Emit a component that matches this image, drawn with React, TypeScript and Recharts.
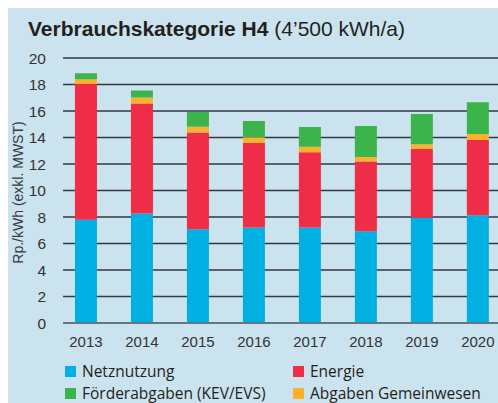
import React from 'react';
import {
  BarChart,
  Bar,
  XAxis,
  YAxis,
  CartesianGrid,
  Label,
} from 'recharts';

// Werte in Rp./kWh
const years = [2013, 2014, 2015, 2016, 2017, 2018, 2019, 2020];
const netznutzung = [7.8, 8.26, 7.07, 7.2, 7.2, 6.92, 7.95, 8.13];
const energie = [10.24, 8.3, 7.3, 6.38, 5.68, 5.26, 5.18, 5.68];
const abgabenGemeinwesen = [0.35, 0.45, 0.45, 0.44, 0.43, 0.35, 0.36, 0.45];
const foerderabgaben = [0.46, 0.53, 1.1, 1.23, 1.48, 2.34, 2.28, 2.4];
const yTicks = [0, 2, 4, 6, 8, 10, 12, 14, 16, 18, 20];

const series = [
  { key: 'netz', name: 'Netznutzung', color: '#00b0e2', values: netznutzung },
  { key: 'energie', name: 'Energie', color: '#ef2d47', values: energie },
  { key: 'gemeinwesen', name: 'Abgaben Gemeinwesen', color: '#fbb12c', values: abgabenGemeinwesen },
  { key: 'foerder', name: 'Förderabgaben (KEV/EVS)', color: '#3bb54b', values: foerderabgaben },
];

// Reihenfolge in der Legende: links/rechts, zwei Zeilen
const legendOrder = ['netz', 'energie', 'foerder', 'gemeinwesen'];

const data = years.map((year, i) => {
  const row: Record<string, number> = { year };
  series.forEach((s) => {
    row[s.key] = s.values[i];
  });
  return row;
});

const FONT = '"Liberation Sans", Arial, Helvetica, sans-serif';

const ChartLegend = () => (
  <div
    style={{
      position: 'absolute',
      left: 57,
      top: 355,
      display: 'grid',
      gridTemplateColumns: '228px 200px',
      rowGap: '6px',
      fontFamily: '"Open Sans", sans-serif',
      fontSize: '15.5px',
      color: '#231f20',
      lineHeight: '16px',
    }}
  >
    {legendOrder.map((k) => {
      const s = series.find((x) => x.key === k)!;
      return (
        <div key={k} style={{ display: 'flex', alignItems: 'center', whiteSpace: 'nowrap' }}>
          <span
            style={{
              display: 'inline-block',
              width: 11,
              height: 11,
              background: s.color,
              marginRight: 6,
            }}
          />
          <span>{s.name}</span>
        </div>
      );
    })}
  </div>
);

const YLabel = (props: any) => {
  const { viewBox } = props;
  const x = viewBox.x + 10;
  const y = viewBox.y + viewBox.height / 2 + 2;
  return (
    <text
      x={x}
      y={y}
      transform={`rotate(-90, ${x}, ${y})`}
      textAnchor="middle"
      dominantBaseline="central"
      fill="#3a3a3a"
      fontSize={14}
      fontFamily={FONT}
    >
      Rp./kWh (exkl. MWST)
    </text>
  );
};

export default function App() {
  return (
    <div style={{ width: 498, height: 403, background: '#fff', paddingLeft: 8, paddingTop: 8, boxSizing: 'border-box' }}>
      <style>{'body{margin:0}'}</style>
      <div
        style={{
          position: 'relative',
          width: 490,
          height: 395,
          background: '#cbe3ee',
          overflow: 'hidden',
        }}
      >
        <div
          style={{
            position: 'absolute',
            left: 20,
            top: 10,
            fontFamily: FONT,
            fontSize: 21,
            lineHeight: '21px',
            color: '#231f20',
            whiteSpace: 'nowrap',
          }}
        >
          <span style={{ fontWeight: 'bold' }}>Verbrauchskategorie H4</span> (4’500 kWh/a)
        </div>
        <BarChart
          width={490}
          height={345}
          data={data}
          margin={{ top: 50, right: 0, bottom: 0, left: 0 }}
        >
          <CartesianGrid
            horizontal
            vertical={false}
            stroke="#33393e"
            strokeWidth={1.5}
          />
          <XAxis
            dataKey="year"
            type="number"
            domain={[2012.59, 2020.36]}
            ticks={years}
            interval={0}
            allowDataOverflow
            axisLine={{ stroke: '#5f7987', strokeWidth: 2 }}
            tickLine={false}
            tickMargin={7}
            height={30}
            tick={{ fill: '#333', fontSize: 15, fontFamily: FONT }}
          />
          <YAxis
            domain={[0, 20]}
            ticks={yTicks}
            interval={0}
            width={55}
            axisLine={false}
            tickLine={false}
            tickMargin={11}
            tick={{ fill: '#333', fontSize: 15.5, fontFamily: FONT }}
          >
            <Label content={<YLabel />} />
          </YAxis>
          {series.map((s) => (
            <Bar
              key={s.key}
              dataKey={s.key}
              name={s.name}
              stackId="a"
              fill={s.color}
              barSize={22}
              isAnimationActive={false}
            />
          ))}
        </BarChart>
        <ChartLegend />
      </div>
    </div>
  );
}
